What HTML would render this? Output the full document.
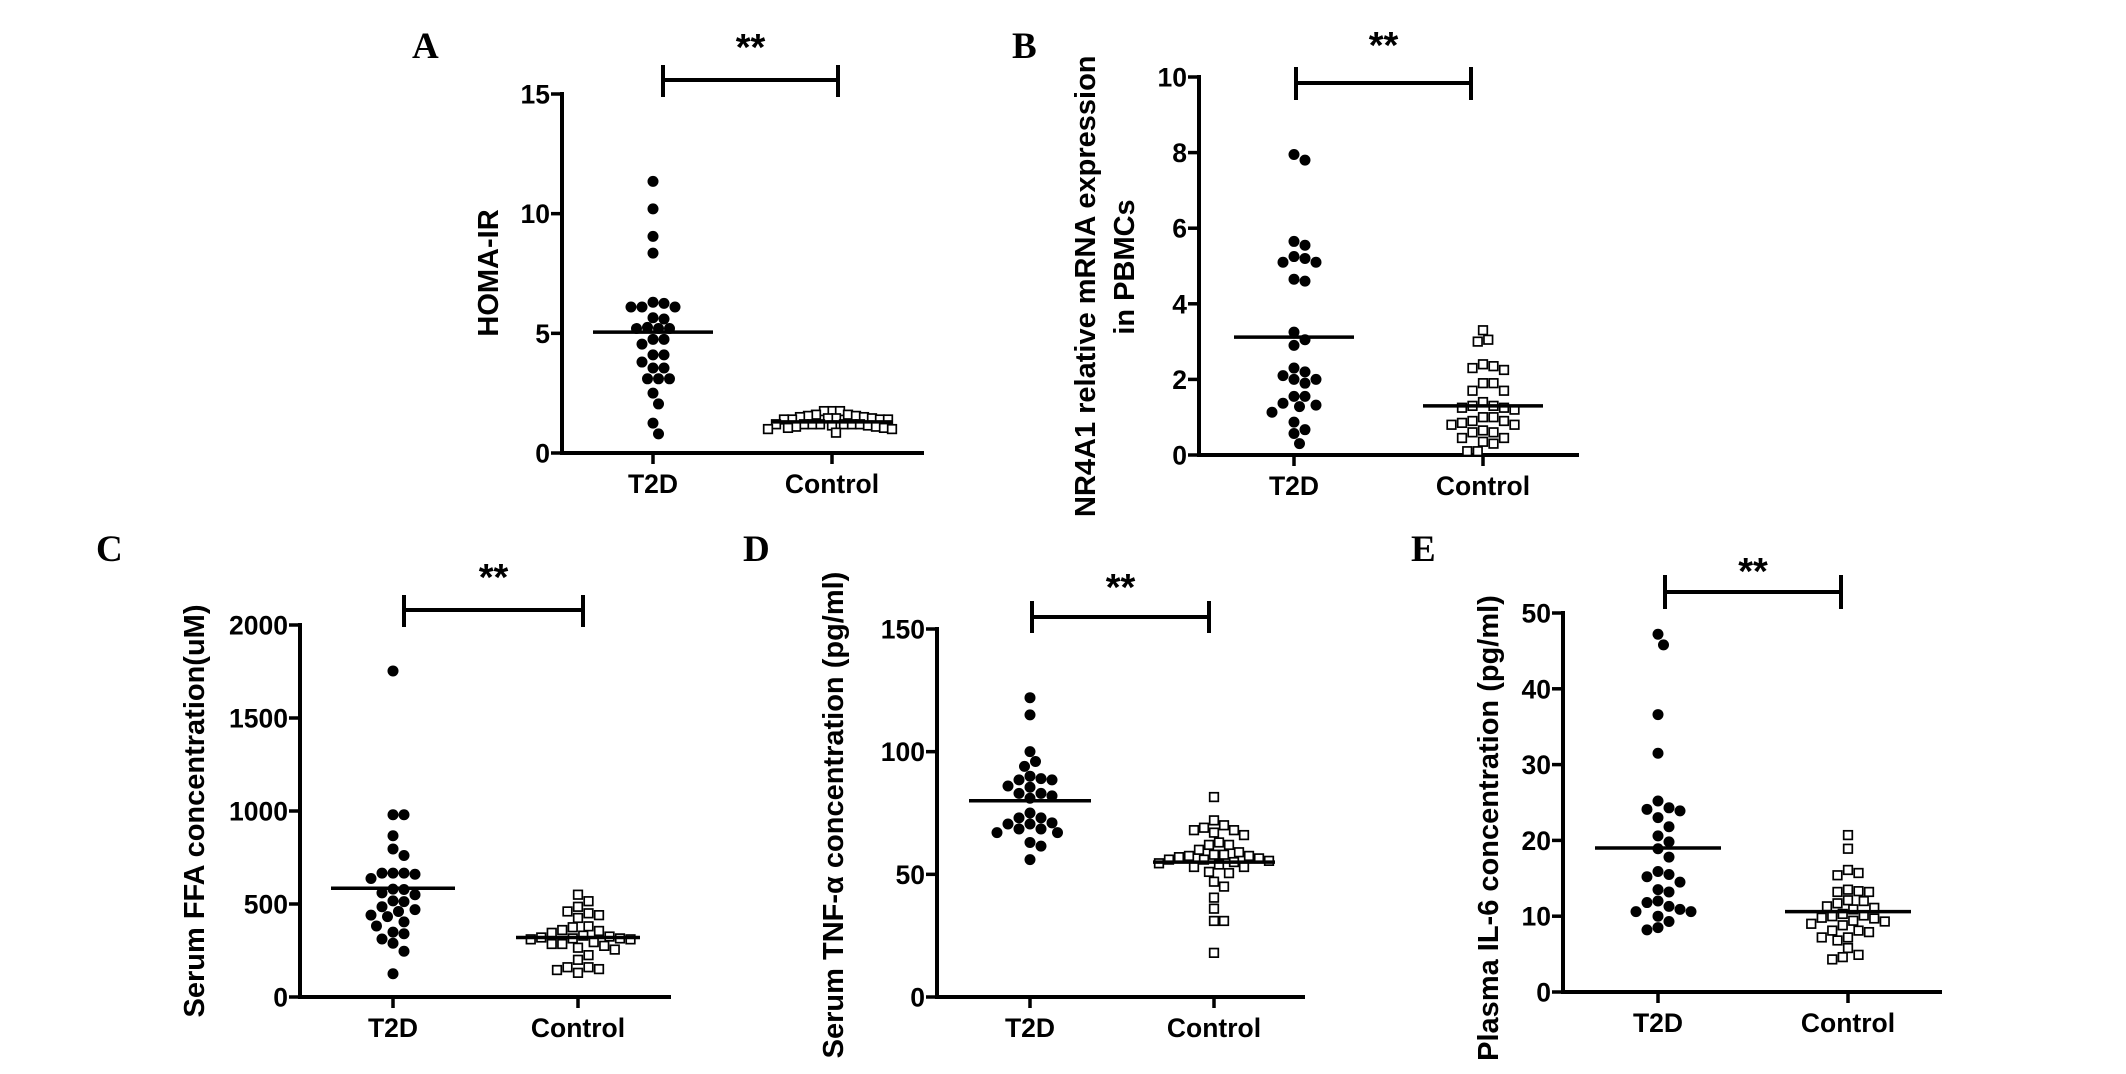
<!DOCTYPE html>
<html><head><meta charset="utf-8"><style>
html,body{margin:0;padding:0;background:#fff;}
svg{display:block;font-family:"Liberation Sans",Arial,sans-serif;}
</style></head><body>
<svg id="fig" width="2126" height="1074" viewBox="0 0 2126 1074" xmlns="http://www.w3.org/2000/svg">
<defs><clipPath id="clipB"><rect x="1040" y="26" width="200" height="520"/></clipPath></defs>
</svg>
<script>
// ---- data arrays ----
const categories = ["T2D", "Control"];
const homaT2D = [11.35,10.2,9.05,8.35,6.3,6.25,6.1,6.1,6.1,5.65,5.6,5.25,5.2,5.2,5.2,4.75,4.75,4.55,4.1,4.1,3.8,3.55,3.55,3.1,3.1,3.1,2.5,2.05,1.25,0.8];
const homaCtrl = [1.75,1.75,1.75,1.6,1.6,1.55,1.55,1.5,1.5,1.45,1.45,1.45,1.4,1.4,1.4,1.4,1.2,1.2,1.2,1.2,1.2,1.2,1.2,1.15,1.15,1.1,1.1,1.05,1.05,1.0,1.0,0.85];
const homaMeans = [5.05, 1.3];
const homaTicks = [0, 5, 10, 15];
const nrT2D = [7.95,7.8,5.65,5.55,5.25,5.2,5.1,5.1,4.65,4.6,3.25,3.05,2.9,2.3,2.2,2.1,2.0,2.0,1.9,1.55,1.55,1.37,1.32,1.28,1.13,0.87,0.67,0.57,0.3];
const nrCtrl = [3.3,3.05,3.0,2.4,2.35,2.3,2.25,1.9,1.9,1.7,1.7,1.4,1.3,1.25,1.25,1.2,1.3,1.0,1.0,0.9,0.9,0.85,0.8,0.8,0.6,0.6,0.65,0.45,0.45,0.35,0.3,0.1,0.1];
const nrMeans = [3.12, 1.3];
const nrTicks = [0, 2, 4, 6, 8, 10];
const ffaT2D = [1753,980,980,867,796,761,666,666,660,666,637,578,580,560,550,517,513,485,470,460,440,432,404,382,349,340,312,289,246,125];
const ffaCtrl = [550,515,485,460,450,440,425,380,375,360,355,345,330,325,320,315,315,310,310,295,285,285,275,265,255,225,200,160,160,150,145,130];
const ffaMeans = [585, 320];
const ffaTicks = [0, 500, 1000, 1500, 2000];
const tnfT2D = [122,115,100,96,94,90,88.5,88.5,89,86,85.5,83,83,82,81,75,73,73,71,70.5,70.5,68.5,68.5,67,67,63,61.5,56];
const tnfCtrl = [81.5,72,70,69,68,68,67,66,63,62,62,60,59,58,58,57.5,57.5,57,56.5,56,56,55.5,55,54.5,54,53,53,51,50.5,47,45,40.5,36,31,31,18];
const tnfMeans = [80, 55];
const tnfTicks = [0, 50, 100, 150];
const il6T2D = [47.2,45.8,36.6,31.5,25.2,24.3,24.1,23.9,23,21.8,20.6,19.8,18.9,17.8,15.9,15.5,15.2,14.5,13.5,13.2,12,11.8,11.3,10.9,10.6,10.6,10,9.3,8.5,8.2];
const il6Ctrl = [20.7,18.9,16.1,15.7,15.4,13.5,13.3,13.2,13.2,12.1,12.0,11.7,11.3,11.1,10.9,10.3,10.1,10.0,9.8,9.7,9.4,9.3,9.0,8.8,8.1,8.1,7.9,7.2,7.2,6.8,5.8,4.9,4.6,4.3];
const il6Means = [19, 10.6];
const il6Ticks = [0, 10, 20, 30, 40, 50];

// ---- layout ----
const NS = "http://www.w3.org/2000/svg";
const svg = document.getElementById("fig");
function mk(tag, attrs, parent) {
  const e = document.createElementNS(NS, tag);
  for (const k in attrs) e.setAttribute(k, attrs[k]);
  (parent || svg).appendChild(e);
  return e;
}
const panels = [
  {id:"a", letter:"A", lx:412, ly:58, ax:562, y0:453, y1:94, xend:924, cx:[653,832], max:15, mh:60, sq:8,
   t2d:homaT2D, ctrl:homaCtrl, means:homaMeans, ticks:homaTicks,
   br:{y:80, x1:663, x2:838, t1:65, t2:97, sy:60}, title:["HOMA-IR"], tx:[489], tcy:273},
  {id:"b", letter:"B", lx:1012, ly:58, ax:1199, y0:455, y1:77, xend:1579, cx:[1294,1483], max:10, mh:60, sq:10.5,
   t2d:nrT2D, ctrl:nrCtrl, means:nrMeans, ticks:nrTicks,
   br:{y:83, x1:1296, x2:1471, t1:67, t2:100, sy:58}, title:["NR4A1 relative mRNA expression","in PBMCs"], tx:[1086,1125], tstart:517, tcy:267},
  {id:"c", letter:"C", lx:96, ly:561, ax:300, y0:997, y1:625, xend:671, cx:[393,578], max:2000, mh:62, sq:10.5,
   t2d:ffaT2D, ctrl:ffaCtrl, means:ffaMeans, ticks:ffaTicks,
   br:{y:610, x1:404, x2:583, t1:595, t2:627, sy:590}, title:["Serum FFA concentration(uM)"], tx:[195], tcy:811},
  {id:"d", letter:"D", lx:743, ly:561, ax:937, y0:997, y1:629, xend:1305, cx:[1030,1214], max:150, mh:61, sq:10,
   t2d:tnfT2D, ctrl:tnfCtrl, means:tnfMeans, ticks:tnfTicks,
   br:{y:617, x1:1032, x2:1209, t1:601, t2:633, sy:600}, title:["Serum TNF-\u03b1 concentration (pg/ml)"], tx:[834], tcy:815},
  {id:"e", letter:"E", lx:1411, ly:561, ax:1563, y0:992, y1:613, xend:1942, cx:[1658,1848], max:50, mh:63, sq:10.5,
   t2d:il6T2D, ctrl:il6Ctrl, means:il6Means, ticks:il6Ticks,
   br:{y:592, x1:1665, x2:1841, t1:575, t2:609, sy:584}, title:["Plasma IL-6 concentration (pg/ml)"], tx:[1489], tcy:828}
];

function swarm(vals, yScale, cx, D) {
  const order = vals.map((v,i)=>i).sort((a,b)=>vals[b]-vals[a]);
  const placed = [];
  order.forEach(i => {
    const y = yScale(vals[i]);
    for (let k = 0; k < 80; k++) {
      const off = (k % 2 ? 1 : -1) * Math.ceil(k/2) * (D/2);
      const x = cx + off;
      if (placed.every(p => (p.x-x)*(p.x-x)+(p.y-y)*(p.y-y) >= D*D)) { placed.push({x,y,i}); break; }
    }
  });
  return placed;
}

panels.forEach(p => {
  const g = mk("g", {});
  
  
  const ys = v => p.y0 - (v / p.max) * (p.y0 - p.y1);
  const L = mk("text", {x:p.lx, y:p.ly, "font-family":"Liberation Serif,serif", "font-weight":"bold", "font-size":37}, g);
  L.textContent = p.letter;
  
  
  const ya = mk("line", {x1:p.ax, y1:p.y1-2, x2:p.ax, y2:p.y0+2, stroke:"#000", "stroke-width":4}, g);
  
  
  const xa = mk("line", {x1:p.ax-2, y1:p.y0, x2:p.xend, y2:p.y0, stroke:"#000", "stroke-width":4}, g);
  
  
  p.ticks.forEach(t => {
    const y = ys(t);
    mk("line", {x1:p.ax-11, y1:y, x2:p.ax, y2:y, stroke:"#000", "stroke-width":3.5}, g);
    const tl = mk("text", {x:p.ax-12, y:y+9.5, "text-anchor":"end", "font-weight":"bold", "font-size":26.5}, g);
    tl.textContent = t;
    
    
  });
  categories.forEach((c, i) => {
    mk("line", {x1:p.cx[i], y1:p.y0, x2:p.cx[i], y2:p.y0+11, stroke:"#000", "stroke-width":3.5}, g);
    const cl = mk("text", {x:p.cx[i], y:p.y0+40, "text-anchor":"middle", "font-weight":"bold", "font-size":26.5}, g);
    cl.textContent = c;
    
    
  });
  const tg = p.id === "b" ? mk("g", {"clip-path":"url(#clipB)"}, g) : g;
  p.title.forEach((t, i) => {
    let tt;
    if (p.id === "b" && i === 0) {
      tt = mk("text", {x:0, y:0, transform:`translate(${p.tx[i]},${p.tstart}) rotate(-90)`, "text-anchor":"start", "dominant-baseline":"central", "font-weight":"bold", "font-size":29}, tg);
    } else {
      tt = mk("text", {x:0, y:0, transform:`translate(${p.tx[i]},${p.tcy}) rotate(-90)`, "text-anchor":"middle", "dominant-baseline":"central", "font-weight":"bold", "font-size":29}, tg);
    }
    tt.textContent = t;
    
    
  });
  swarm(p.t2d, ys, p.cx[0], 11).forEach(pt => {
    const c = mk("circle", {cx:pt.x, cy:pt.y, r:5.5, fill:"#000"}, g);
    
    
  });
  swarm(p.ctrl, ys, p.cx[1], p.sq).forEach(pt => {
    const r = mk("rect", {x:pt.x-4.3, y:pt.y-4.3, width:8.6, height:8.6, fill:"#fff", stroke:"#000", "stroke-width":1.7}, g);
    
    
  });
  p.means.forEach((m, i) => {
    const ml = mk("line", {x1:p.cx[i]-p.mh, y1:ys(m), x2:p.cx[i]+p.mh, y2:ys(m), stroke:"#000", "stroke-width":3.5}, g);
    
    
  });
  const b = p.br;
  const bg = mk("g", {stroke:"#000", "stroke-width":4}, g);
  
  
  mk("line", {x1:b.x1, y1:b.y, x2:b.x2, y2:b.y}, bg);
  mk("line", {x1:b.x1, y1:b.t1, x2:b.x1, y2:b.t2}, bg);
  mk("line", {x1:b.x2, y1:b.t1, x2:b.x2, y2:b.t2}, bg);
  const st = mk("text", {x:(b.x1+b.x2)/2, y:b.sy, "text-anchor":"middle", "font-weight":"bold", "font-size":38}, g);
  st.textContent = "**";
  
  
});
</script>
</body></html>
